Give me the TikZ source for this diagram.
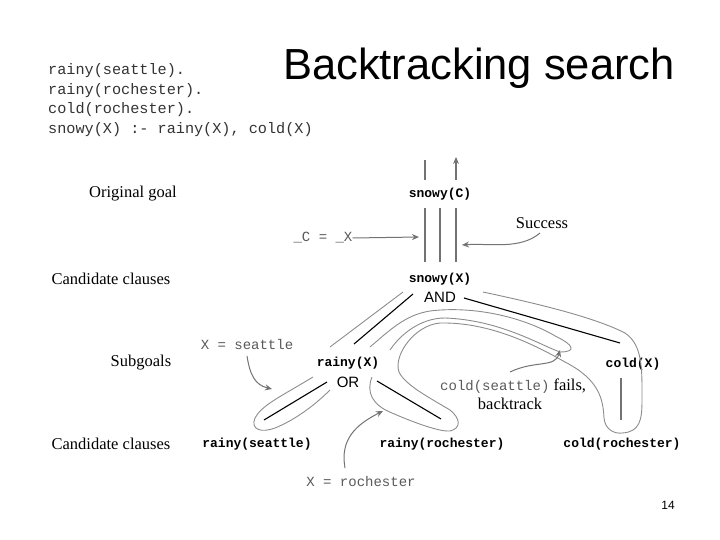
\documentclass[tikz,border=0pt]{standalone}
\usepackage{fontspec}
\setmainfont{Liberation Serif}
\setsansfont{Liberation Sans}
\setmonofont{Liberation Mono}
\usetikzlibrary{arrows.meta}
\begin{document}
\begin{tikzpicture}[x=1pt,y=-1pt,
  term/.style={font=\ttfamily\bfseries\fontsize{13}{14}\selectfont,inner sep=0},
  lbl/.style={font=\fontsize{16.5}{18}\selectfont,inner sep=0},
  mono/.style={font=\ttfamily\fontsize{14}{16}\selectfont,text=black!65,inner sep=0},
  op/.style={font=\sffamily\fontsize{15}{17}\selectfont,inner sep=0},
  edge/.style={line width=1.1pt,black},
  loop/.style={line width=0.9pt,black!45},
  gl/.style={line width=1.1pt,black!55},
  ga/.style={line width=1pt,black!55,-{Stealth[length=7pt,width=6pt]}}]
\useasboundingbox (0,0) rectangle (720,540);
% code
\node[anchor=west,font=\ttfamily\fontsize{15.2}{19.7}\selectfont,text=black!80,align=left,inner sep=0] (code) at (48,100)
 {rainy(seattle).\\rainy(rochester).\\cold(rochester).\\snowy(X) :- rainy(X), cold(X)};
\node[font=\sffamily\fontsize{43.5}{46}\selectfont,inner sep=0] (title) at (479,68) {Backtracking search};
\node[font=\sffamily\fontsize{12}{13}\selectfont,inner sep=0] (pg) at (668,505) {14};
% left labels
\node[lbl] (l1) at (133,194) {Original goal};
\node[lbl] (l2) at (111,279) {Candidate clauses};
\node[lbl] (l3) at (141,363) {Subgoals};
\node[lbl] (l4) at (111,444) {Candidate clauses};
% terms
\node[term] (sc) at (440,194) {snowy(C)};
\node[term] (sx) at (440,279) {snowy(X)};
\node[op] (and) at (440,297) {AND};
\node[term] (rx) at (348,363) {rainy(X)};
\node[op] (or) at (348,382) {OR};
\node[term] (cx) at (633,364) {cold(X)};
\node[term] (rs) at (257,444) {rainy(seattle)};
\node[term] (rr) at (442,444) {rainy(rochester)};
\node[term] (cr) at (622,444) {cold(rochester)};
% vertical lines
\coordinate (t1) at (425,160); \coordinate (t1b) at (425,180);
\coordinate (t3) at (456,180); \coordinate (t3b) at (456,157);
\draw[gl] (t1) -- (t1b);
\draw[gl,-{Stealth[length=7pt,width=6pt]}] (t3) -- (t3b);
\draw[gl] (425,208) -- (425,262) (440,208) -- (440,262) (456,208) -- (456,262);
% edges
\draw[edge] (413,294) -- (354,344);
\draw[edge] (464,298) -- (620,343);
\draw[edge] (327,382) -- (264,420);
\draw[edge] (377,381) -- (441,419);
\draw[gl] (621,378) -- (621,420);
% loops
\draw[loop] (403,292) -- (330,347);
\draw[loop] (313,377) .. controls (280,397) and (262,405) .. (255,418)
  .. controls (250,430) and (262,433) .. (275,428)
  .. controls (295,420) and (315,405) .. (330,390);
\draw[loop] (370,347) .. controls (390,330) and (405,315) .. (430,311)
  .. controls (470,306) and (520,315) .. (557,337)
  .. controls (572,344) and (578,352) .. (560,352)
  .. controls (540,345) and (500,320) .. (445,318)
  .. controls (420,318) and (400,335) .. (390,350);
\draw[loop] (372,377) .. controls (366,392) and (372,405) .. (392,413)
  .. controls (415,423) and (440,432) .. (450,431)
  .. controls (462,428) and (460,418) .. (450,410)
  .. controls (430,398) and (405,385) .. (399,372)
  .. controls (393,355) and (415,325) .. (440,323)
  .. controls (490,322) and (535,345) .. (565,362)
  .. controls (600,380) and (603,400) .. (604,418)
  .. controls (605,430) and (615,434) .. (622,433)
  .. controls (640,432) and (642,420) .. (642,400)
  .. controls (642,370) and (643,345) .. (625,333)
  .. controls (590,315) and (520,300) .. (483,292);
% annotations
\node[mono] (cx2) at (323,238) {\_C = \_X};
\draw[ga] (cx2.east) -- (419,237);
\node[lbl] (succ) at (542,223) {Success};
\draw[ga] (540,233) .. controls (520,250) and (490,243) .. (462,245);
\node[mono] (xs) at (247,344) {X = seattle};
\draw[ga] (247,356) .. controls (250,375) and (255,385) .. (272,389);
\node[mono] (xr) at (361,481) {X = rochester};
\draw[ga] (345,468) .. controls (340,440) and (355,425) .. (383,411);
\node[anchor=west,inner sep=0,font=\fontsize{16.5}{18}\selectfont] (fail) at (440,386) {{\ttfamily\fontsize{14}{16}\selectfont\color{black!65}cold(seattle)} fails,};
\node[lbl] (bt) at (510,404) {backtrack};
\draw[ga] (510,372) .. controls (535,360) and (555,368) .. (560,350);
\end{tikzpicture}
\end{document}
